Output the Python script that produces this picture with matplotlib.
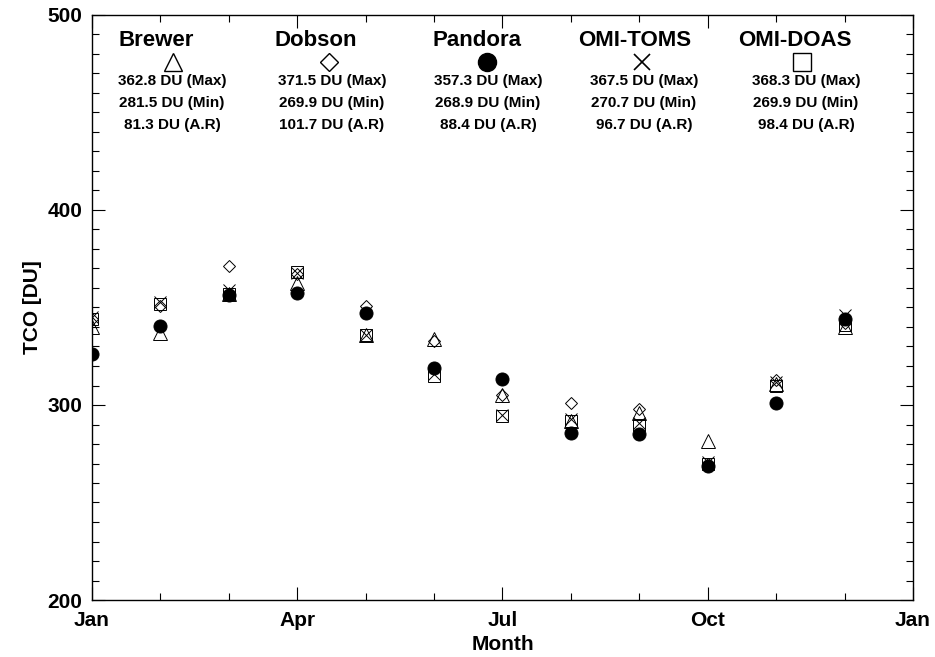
import numpy as np
import matplotlib
matplotlib.use("Agg")
import matplotlib.pyplot as plt
from matplotlib.ticker import MultipleLocator, FixedLocator

plt.rcParams['font.family'] = ['Liberation Sans', 'DejaVu Sans']
plt.rcParams['font.weight'] = 'bold'

# ---- data ----
months = ['Jan', 'Feb', 'Mar', 'Apr', 'May', 'Jun', 'Jul', 'Aug', 'Sep', 'Oct', 'Nov', 'Dec']
tick_labels = ['Jan', 'Apr', 'Jul', 'Oct', 'Jan']

brewer   = [340.0, 337.0, 357.0, 362.8, 336.0, 334.0, 305.0, 292.0, 296.0, 281.5, 311.0, 340.0]
dobson   = [344.0, 351.0, 371.5, 367.0, 351.0, 333.0, 305.0, 301.0, 298.0, 269.9, 313.0, 342.0]
pandora  = [326.0, 340.5, 356.5, 357.3, 347.0, 319.0, 313.5, 285.5, 285.0, 268.9, 301.0, 344.0]
omi_toms = [345.0, 353.0, 359.0, 367.5, 336.0, 316.0, 295.0, 293.0, 291.0, 270.7, 312.0, 346.0]
omi_doas = [344.0, 352.0, 357.0, 368.3, 336.0, 315.0, 294.5, 292.0, 290.0, 269.9, 310.0, 341.0]

names = ['Brewer', 'Dobson', 'Pandora', 'OMI-TOMS', 'OMI-DOAS']
max_vals = ['362.8', '371.5', '357.3', '367.5', '368.3']
min_vals = ['281.5', '269.9', '268.9', '270.7', '269.9']
ar_vals  = ['81.3', '101.7', '88.4', '96.7', '98.4']

# ---- figure ----
W, H = 935, 657
fig = plt.figure(figsize=(W / 100, H / 100), dpi=100)
ax_l, ax_r, ax_t, ax_b = 92, 913, 15, 600
ax = fig.add_axes([ax_l / W, 1 - ax_b / H, (ax_r - ax_l) / W, (ax_b - ax_t) / H])

def fx(px):
    return (px - ax_l) / (ax_r - ax_l)

def fy(py):
    return (ax_b - py) / (ax_b - ax_t)

x = np.arange(len(months))
styles = [
    dict(marker='^', ms=9.4, mfc='none', mec='black', mew=0.7),
    dict(marker='D', ms=6.3, mfc='none', mec='black', mew=0.7),
    dict(marker='o', ms=9.4, mfc='black', mec='black', mew=0.7),
    dict(marker='x', ms=8.6, mfc='none', mec='black', mew=0.7),
    dict(marker='s', ms=9.2, mfc='none', mec='black', mew=0.7),
]
series = [brewer, dobson, pandora, omi_toms, omi_doas]
for vals, st in zip(series, styles):
    ax.plot(x, vals, linestyle='none', clip_on=True, **st)

ax.set_xlim(0, 12)
ax.set_ylim(200, 500)
ax.xaxis.set_major_locator(FixedLocator([0, 3, 6, 9, 12]))
ax.set_xticklabels(tick_labels)
ax.xaxis.set_minor_locator(MultipleLocator(1))
ax.yaxis.set_major_locator(MultipleLocator(100))
ax.yaxis.set_minor_locator(MultipleLocator(10))
ax.tick_params(which='both', direction='in', top=True, right=True, width=0.8, colors='black')
ax.tick_params(which='major', length=9.4, labelsize=15, pad=8)
ax.tick_params(which='minor', length=5)
ax.tick_params(axis='y', which='major', pad=7)
for lab in ax.get_xticklabels() + ax.get_yticklabels():
    lab.set_fontweight('bold')
for sp in ax.spines.values():
    sp.set_linewidth(1.0)

ax.set_xlabel('Month', fontsize=15, fontweight='bold', va='center')
ax.xaxis.set_label_coords(0.5, fy(645))
ax.set_ylabel('TCO [DU]', fontsize=15, fontweight='bold', va='center')
ax.yaxis.set_label_coords(fx(33), 0.5)

# ---- in-plot legend / statistics ----
title_left = [118, 275, 432, 578, 738]
sym_x = [173, 329, 487, 642, 802]
num_x = [172, 332, 488, 644, 806]
leg_styles = [
    dict(marker='^', ms=12.5, mfc='none', mec='black', mew=1.0),
    dict(marker='D', ms=9.0, mfc='none', mec='black', mew=1.0),
    dict(marker='o', ms=13.0, mfc='black', mec='black', mew=1.0),
    dict(marker='x', ms=12.0, mfc='none', mec='black', mew=1.2),
    dict(marker='s', ms=13.5, mfc='none', mec='black', mew=1.0),
]
for i, name in enumerate(names):
    ax.text(fx(title_left[i]), fy(40), name, transform=ax.transAxes,
            ha='left', va='center', fontsize=16, fontweight='bold')
    ax.plot([fx(sym_x[i])], [fy(62)], transform=ax.transAxes,
            linestyle='none', clip_on=False, **leg_styles[i])
    ax.text(fx(num_x[i]), fy(81), f'{max_vals[i]} DU (Max)', transform=ax.transAxes,
            ha='center', va='center', fontsize=11, fontweight='bold')
    ax.text(fx(num_x[i]), fy(103), f'{min_vals[i]} DU (Min)', transform=ax.transAxes,
            ha='center', va='center', fontsize=11, fontweight='bold')
    ax.text(fx(num_x[i]), fy(125), f'{ar_vals[i]} DU (A.R)', transform=ax.transAxes,
            ha='center', va='center', fontsize=11, fontweight='bold')

fig.savefig('out.png', dpi=100)
